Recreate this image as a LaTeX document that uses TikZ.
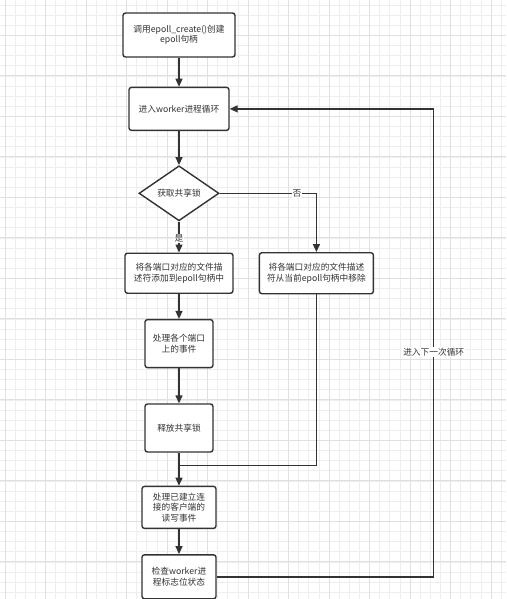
\documentclass[tikz,border=0pt]{standalone}
\usepackage{fontspec}
\setmainfont{Noto Sans CJK SC}
\usetikzlibrary{positioning,shapes.geometric,arrows.meta}
\definecolor{ink}{HTML}{333333}
\definecolor{gridminor}{HTML}{EEEEEE}
\definecolor{gridmajor}{HTML}{E0E0E0}
\begin{document}
\begin{tikzpicture}[x=1pt, y=1pt, line width=1.4pt,
  box/.style={rectangle, rounded corners=2.5pt, draw=ink, fill=white, text=ink, align=center, inner sep=2pt, font=\fontsize{8.7pt}{10.6pt}\selectfont},
  dia/.style={diamond, draw=ink, fill=white, text=ink, inner sep=0pt, minimum width=80pt, minimum height=55pt, font=\fontsize{8.7pt}{10.6pt}\selectfont},
  lbl/.style={fill=white, text=ink, inner sep=1pt, font=\fontsize{8.7pt}{10.6pt}\selectfont},
  ar/.style={draw=ink, -{Triangle[width=7pt,length=8pt]}}]
      \useasboundingbox (0,0) rectangle (506,-599);
      \fill[white] (0,0) rectangle (506,-599);
      \begin{scope}[shift={(5,-5)}]
        \draw[gridminor, line width=0.7pt, step=10.125] (-5,5) grid (501,-594);
      \end{scope}
      \begin{scope}[shift={(5,-35)}]
        \draw[gridmajor, line width=0.8pt, step=40.5] (-5,35) grid (501,-564);
      \end{scope}

      \node[box, minimum width=112pt, minimum height=44pt] (create) at (179,-35) {调用epoll\_create()创建\\epoll句柄};
      \node[box, minimum width=100pt, minimum height=43pt] (loop) [below=29pt of create] {进入worker进程循环};
      \node[dia] (lock) [below=34pt of loop] {获取共享锁};
      \node[box, minimum width=108pt, minimum height=40pt] (add) [below=31pt of lock] {将各端口对应的文件描\\述符添加到epoll句柄中};
      \node[box, minimum width=114pt, minimum height=41pt] (remove) [right=25pt of add] {将各端口对应的文件描述\\符从当前epoll句柄中移除};
      \node[box, minimum width=68pt, minimum height=48pt] (events) [below=25pt of add] {处理各个端口\\上的事件};
      \node[box, minimum width=68pt, minimum height=48pt] (release) [below=35pt of events] {释放共享锁};
      \node[box, minimum width=74pt, minimum height=42pt] (rw) [below=33pt of release] {处理已建立连\\接的客户端的\\读写事件};
      \node[box, minimum width=74pt, minimum height=44pt] (check) [below=25pt of rw] {检查worker进\\程标志位状态};
      \coordinate[below=13pt of release.south] (join);
      \coordinate[right=217pt of check.east] (back);

      \draw[ar] (create) -- (loop);
      \draw[ar] (loop) -- (lock);
      \draw[ar] (lock) -- (add) node[lbl, pos=0.55]{是};
      \draw[ar] (lock.east) -| (remove) node[lbl, pos=0.4]{否};
      \draw[ar] (add) -- (events);
      \draw[ar] (events) -- (release);
      \draw[ar] (release) -- (rw);
      \draw[draw=ink] (remove) |- (join);
      \draw[ar] (rw) -- (check);
      \draw[ar] (check.east) -- (back) |- (loop.east) node[lbl, pos=0.24]{进入下一次循环};
\end{tikzpicture}
\end{document}
